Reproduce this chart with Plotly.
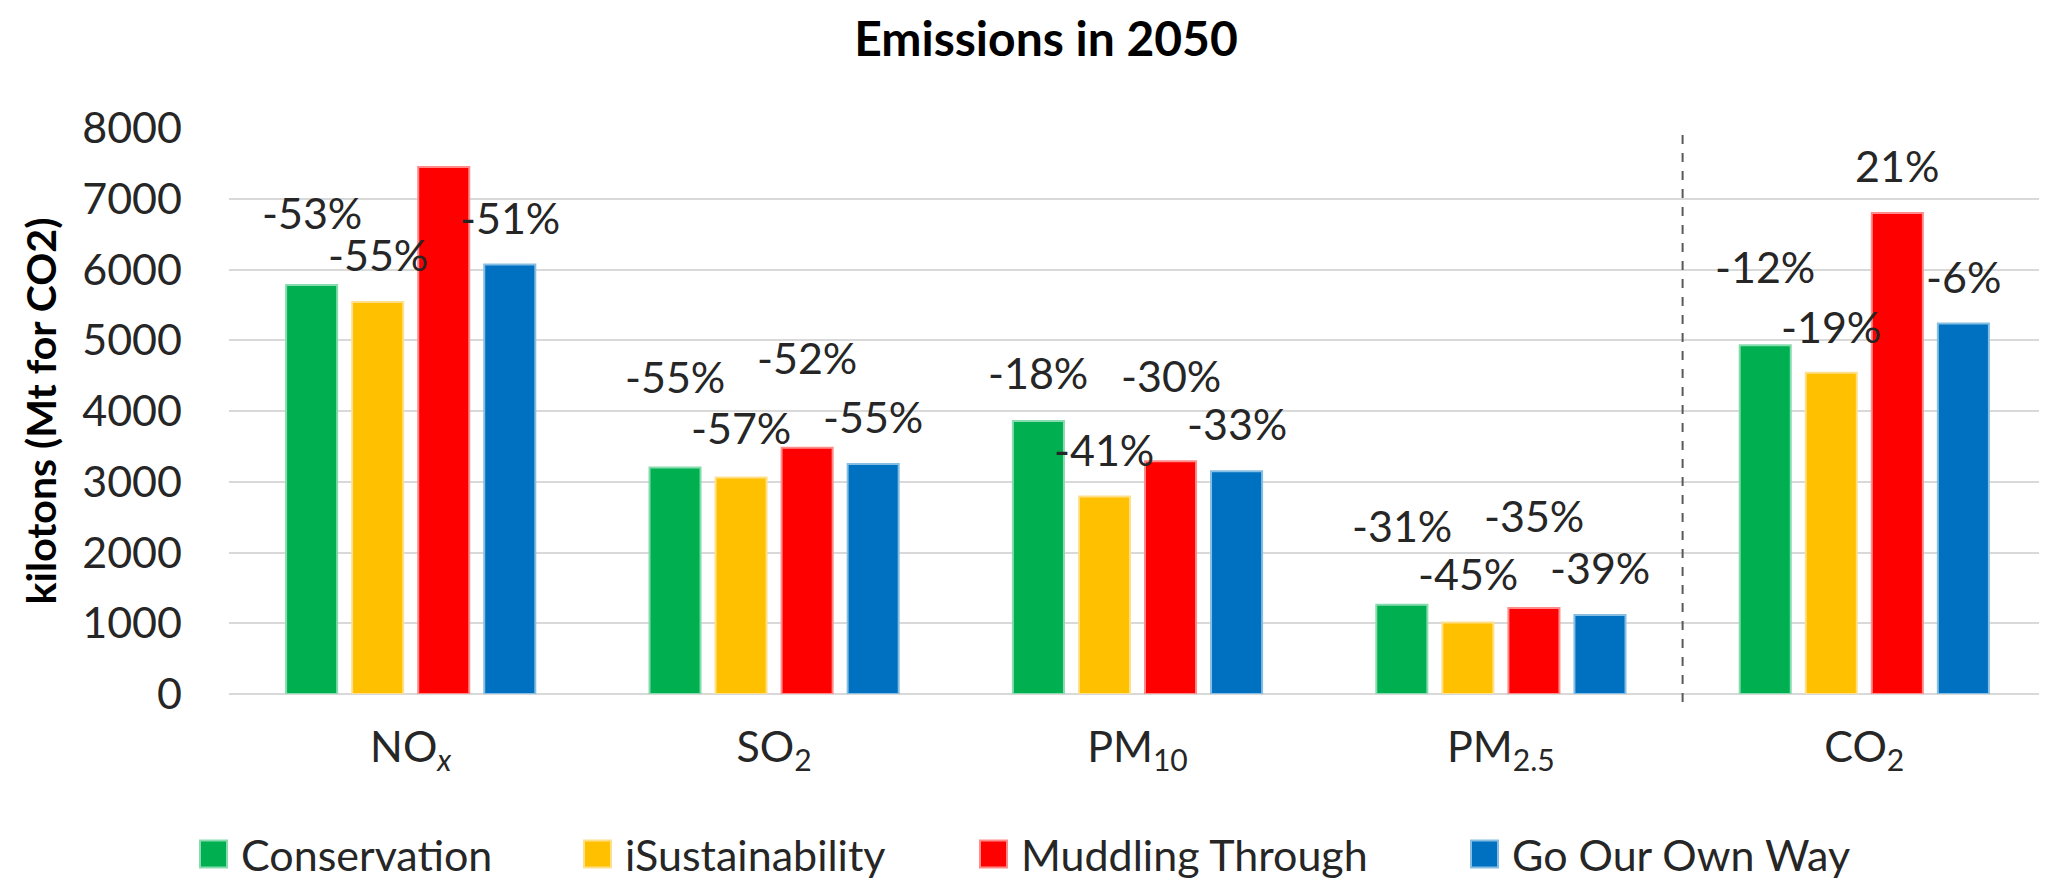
import plotly.graph_objects as go

# ---------------- data ----------------
categories = ["NO<sub><i>x</i></sub>", "SO<sub>2</sub>", "PM<sub>10</sub>", "PM<sub>2.5</sub>", "CO<sub>2</sub>"]
series_names = ["Conservation", "iSustainability", "Muddling Through", "Go Our Own Way"]

conservation = [5780, 3200, 3860, 1260, 4930]
isustainability = [5540, 3060, 2790, 1010, 4540]
muddling_through = [7450, 3480, 3290, 1215, 6800]
go_our_own_way = [6070, 3250, 3150, 1115, 5235]

pct_conservation = ["-53%", "-55%", "-18%", "-31%", "-12%"]
pct_isustainability = ["-55%", "-57%", "-41%", "-45%", "-19%"]
pct_muddling_through = ["-40%", "-52%", "-30%", "-35%", "21%"]
pct_go_our_own_way = ["-51%", "-55%", "-33%", "-39%", "-6%"]

y_tick_values = [0, 1000, 2000, 3000, 4000, 5000, 6000, 7000, 8000]

# ---------------- style / layout ----------------
colors = ["#00B050", "#FFC000", "#FF0000", "#0070C0"]
edge_colors = ["#86dcae", "#ffe08a", "#ff8a8a", "#86bde3"]
# vertical label offsets (data units) above each bar, per series, per category
label_offsets = [
    [1020, 1290, 680, 1120, 1110],
    [670, 700, 660, 690, 650],
    [650, 1270, 1210, 1305, 670],
    [660, 670, 680, 675, 665],
]

W, H = 2047, 879
PL, PR, PT, PB = 221, 2038, 120, 686  # plot area in pixels
FONT = "Lato, 'Open Sans', sans-serif"
TXT = "#262626"
BARGAP = 0.273
GROUPGAP = 0.227

values = [conservation, isustainability, muddling_through, go_our_own_way]
pcts = [pct_conservation, pct_isustainability, pct_muddling_through, pct_go_our_own_way]

fig = go.Figure()
for j, name in enumerate(series_names):
    fig.add_trace(go.Bar(
        x=categories, y=values[j], name=name,
        marker=dict(color=colors[j], line=dict(color=edge_colors[j], width=2)),
        showlegend=False,
    ))

# percentage labels
slot = (1 - BARGAP) / 4
for j in range(4):
    for i in range(len(categories)):
        fig.add_annotation(
            x=i + (j - 1.5) * slot, y=values[j][i] + label_offsets[j][i],
            xref="x", yref="y", text=pcts[j][i], showarrow=False,
            font=dict(family=FONT, size=43, color=TXT),
            xanchor="center", yanchor="middle",
        )

def px_x(p):
    return (p - PL) / (PR - PL)

def px_y(p):
    return (PB - p) / (PB - PT)

# dashed separator between PM2.5 and CO2
sep_x = (3.5 + 0.5) / 5
fig.add_shape(type="line", xref="paper", yref="paper",
              x0=sep_x, x1=sep_x, y0=px_y(694), y1=1.0,
              line=dict(color="#595959", width=2, dash="dash"))

# manual legend
leg_sq_left = [192, 576, 972, 1463]
leg_y = 846
sq = 27
for j, name in enumerate(series_names):
    fig.add_shape(type="rect", xref="paper", yref="paper",
                  x0=px_x(leg_sq_left[j]), x1=px_x(leg_sq_left[j] + sq),
                  y0=px_y(leg_y + sq / 2), y1=px_y(leg_y - sq / 2),
                  fillcolor=colors[j], line=dict(color=edge_colors[j], width=2))
    fig.add_annotation(x=px_x(leg_sq_left[j] + sq + 12), y=px_y(leg_y),
                       xref="paper", yref="paper", text=name, showarrow=False,
                       xanchor="left", yanchor="middle",
                       font=dict(family=FONT, size=43, color=TXT))

fig.update_layout(
    width=W, height=H,
    margin=dict(l=PL, r=W - PR, t=PT, b=H - PB, pad=0),
    paper_bgcolor="white", plot_bgcolor="white",
    barmode="group", bargap=BARGAP, bargroupgap=GROUPGAP,
    title=dict(text="<b>Emissions in 2050</b>", x=1038 / W, xanchor="center",
               y=1 - 31 / H, yanchor="middle", xref="container", yref="container",
               font=dict(family=FONT, size=48, color="#000000")),
    font=dict(family=FONT, color=TXT),
)
fig.update_xaxes(range=[-0.5, 4.5], showgrid=False, zeroline=False, showline=False,
                 ticks="", tickfont=dict(family=FONT, size=43, color=TXT),
                 ticklabelstandoff=24)
fig.update_yaxes(range=[0, 8000], tickvals=y_tick_values,
                 showgrid=True, gridcolor="#d9d9d9", gridwidth=2,
                 zeroline=True, zerolinecolor="#d9d9d9", zerolinewidth=2,
                 showline=False, ticks="", tickfont=dict(family=FONT, size=43, color=TXT),
                 ticklabelstandoff=46,
                 title=dict(text="<b>kilotons (Mt for CO2)</b>", standoff=12,
                            font=dict(family=FONT, size=41, color="#000000")))

fig.write_html("out.html")
